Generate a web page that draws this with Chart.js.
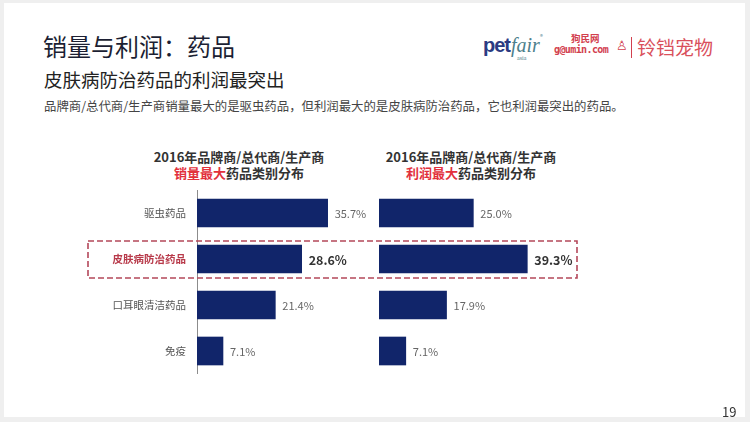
<!DOCTYPE html>
<html>
<head>
<meta charset="utf-8">
<script src="https://cdn.jsdelivr.net/npm/chart.js@4"></script>
<style>
  html, body { margin: 0; padding: 0; }
  body { width: 750px; height: 422px; background: #efefef; position: relative; overflow: hidden;
         font-family: "Noto Sans CJK SC", "Noto Sans", sans-serif; }
  #slide { position: absolute; left: 4px; top: 3px; width: 741px; height: 414px; background: #fff; }
  .t { position: absolute; white-space: nowrap; line-height: 1; }
  canvas { position: absolute; }
</style>
</head>
<body>
<div id="slide"></div>

<div class="t" style="left:43px;top:34px;font-size:24px;color:#1c1f33;">销量与利润：药品</div>
<div class="t" style="left:44px;top:70px;font-size:18.5px;color:#222;">皮肤病防治药品的利润最突出</div>
<div class="t" style="left:44px;top:100px;font-size:12.4px;color:#444;">品牌商/总代商/生产商销量最大的是驱虫药品，但利润最大的是皮肤病防治药品，它也利润最突出的药品。</div>

<!-- logos -->
<div class="t" style="left:483px;top:35px;font-size:20px;font-weight:bold;color:#2b3b82;font-family:'Liberation Sans',sans-serif;letter-spacing:-1px;">pet</div>
<div class="t" style="left:511px;top:35px;font-size:20px;font-style:italic;color:#4d7f8c;font-family:'Liberation Serif',serif;">fair</div>
<div class="t" style="left:540px;top:34px;font-size:6px;color:#4d7f8c;">®</div>
<div class="t" style="left:517px;top:55px;font-size:6px;color:#4d7f8c;font-family:'Liberation Serif',serif;">asia</div>
<div class="t" style="left:571px;top:34px;font-size:9.5px;font-weight:bold;color:#d2404e;">狗民网</div>
<div class="t" style="left:554px;top:45px;font-size:10px;font-weight:bold;color:#d2404e;font-family:'DejaVu Sans Mono',monospace;letter-spacing:-0.6px;">g@umin.com</div>
<div class="t" style="left:616px;top:38px;font-size:13px;color:#d2404e;">♙</div>
<div style="position:absolute;left:631px;top:37px;width:1px;height:21px;background:#d2404e;"></div>
<div class="t" style="left:637px;top:37px;font-size:19px;color:#d9505c;">铃铛宠物</div>

<!-- chart titles -->
<div class="t" style="left:239px;top:150px;transform:translateX(-50%);font-size:13px;font-weight:bold;color:#333;">2016年品牌商/总代商/生产商</div>
<div class="t" style="left:239px;top:166px;transform:translateX(-50%);font-size:13px;font-weight:bold;color:#333;"><span style="color:#e2303c;">销量最大</span>药品类别分布</div>
<div class="t" style="left:471px;top:150px;transform:translateX(-50%);font-size:13px;font-weight:bold;color:#333;">2016年品牌商/总代商/生产商</div>
<div class="t" style="left:471px;top:166px;transform:translateX(-50%);font-size:13px;font-weight:bold;color:#333;"><span style="color:#e2303c;">利润最大</span>药品类别分布</div>

<canvas id="salesChart" width="290" height="184" style="left:90px;top:190px;"></canvas>
<canvas id="profitChart" width="200" height="184" style="left:379px;top:190px;"></canvas>

<svg width="750" height="422" style="position:absolute;left:0;top:0;pointer-events:none;">
  <rect x="88" y="241" width="489" height="37" fill="none" stroke="#b4485a" stroke-width="1.6" stroke-dasharray="6 3"/>
</svg>

<div class="t" style="left:722px;top:405px;font-size:13px;color:#333;">19</div>

<script>
var categories = ['驱虫药品', '皮肤病防治药品', '口耳眼清洁药品', '免疫'];
var salesShare = [35.7, 28.6, 21.4, 7.1];
var profitShare = [25.0, 39.3, 17.9, 7.1];
var highlightIndex = 1;

var barColor = '#11256a';

// value labels at the end of each bar
var valueLabels = {
    id: 'valueLabels',
    afterDatasetsDraw: function(chart) {
        var ctx = chart.ctx;
        var meta = chart.getDatasetMeta(0);
        var values = chart.data.datasets[0].data;
        ctx.save();
        ctx.textAlign = 'left';
        ctx.textBaseline = 'middle';
        for (var i = 0; i < meta.data.length; i++) {
            var bar = meta.data[i];
            if (i == highlightIndex) {
                ctx.font = 'bold 12.5px "Noto Sans CJK SC", sans-serif';
                ctx.fillStyle = '#333';
            } else {
                ctx.font = '11px "Noto Sans CJK SC", sans-serif';
                ctx.fillStyle = '#666';
            }
            ctx.fillText(values[i].toFixed(1) + '%', bar.x + 7, bar.y + 1);
        }
        ctx.restore();
    }
};

function makeChart(id, values, max, showAxis) {
    return new Chart(document.getElementById(id), {
        type: 'bar',
        data: {
            labels: categories,
            datasets: [{
                data: values,
                backgroundColor: barColor,
                barThickness: 28
            }]
        },
        options: {
            indexAxis: 'y',
            responsive: false,
            animation: false,
            layout: { padding: 0 },
            plugins: {
                legend: { display: false },
                tooltip: { enabled: false }
            },
            scales: {
                x: { display: false, min: 0, max: max },
                y: {
                    display: showAxis,
                    afterFit: function(scale) {
                        if (showAxis) scale.width = 107;
                        scale.paddingTop = 0;
                        scale.paddingBottom = 0;
                    },
                    grid: { display: false, drawTicks: false },
                    border: { display: true, color: '#8c8c8c', width: 1 },
                    ticks: {
                        padding: 11,
                        color: function(c) { return c.index == highlightIndex ? '#b83a4a' : '#555'; },
                        font: function(c) {
                            return c.index == highlightIndex
                                ? { family: '"Noto Sans CJK SC", sans-serif', size: 10.5, weight: 'bold' }
                                : { family: '"Noto Sans CJK SC", sans-serif', size: 10.5 };
                        }
                    }
                }
            }
        },
        plugins: [valueLabels]
    });
}

makeChart('salesChart', salesShare, 50, true);
makeChart('profitChart', profitShare, 53, false);
</script>
</body>
</html>
